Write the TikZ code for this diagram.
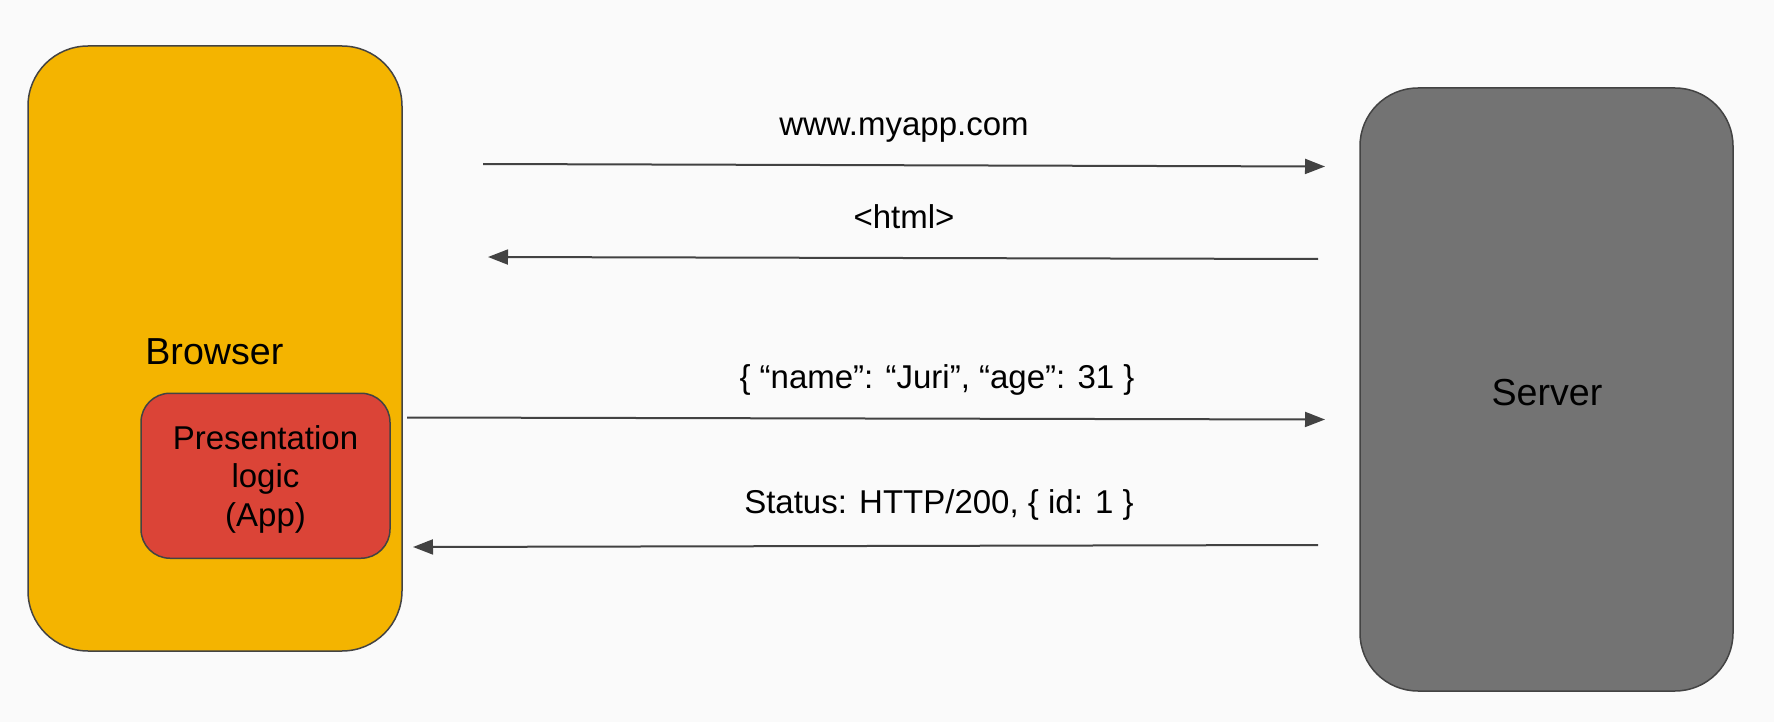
\documentclass[tikz,border=0pt]{standalone}
\usepackage{fontspec}
\setmainfont{Liberation Sans}
\usetikzlibrary{arrows.meta}
\definecolor{bg}{HTML}{FAFAFA}
\definecolor{gyellow}{HTML}{F4B400}
\definecolor{gred}{HTML}{DB4437}
\definecolor{ggray}{HTML}{737373}
\definecolor{edge}{HTML}{434343}
\definecolor{arr}{HTML}{424242}
\begin{document}
\begin{tikzpicture}[x=0.5pt,y=-0.5pt,
  boxstyle/.style={draw=edge,line width=0.75pt,inner sep=0pt},
  msg/.style={draw=arr,line width=1pt,-{Triangle[length=10pt,width=7.5pt]}},
  lbl/.style={anchor=base,inner sep=0pt,font=\fontsize{16.5}{19.8}\selectfont},
  big/.style={font=\fontsize{18.8}{22}\selectfont}]
\fill[bg] (0,0) rectangle (1774,722);
\useasboundingbox (0,0) rectangle (1774,722);
% boxes
\node[boxstyle,fill=gyellow,rounded corners=30pt,minimum width=187pt,minimum height=302.5pt] (browser) at (215,348.5) {};
\node[boxstyle,fill=gred,rounded corners=14.5pt,minimum width=124.5pt,minimum height=82.5pt] (app) at (265.5,475.75) {};
\node[align=center,inner sep=0pt,font=\fontsize{16.5}{19.25}\selectfont,anchor=base] (applbl) at (265.5,526) {Presentation\\logic\\(App)};
\node[boxstyle,fill=ggray,rounded corners=29pt,minimum width=186.5pt,minimum height=301.5pt] (server) at (1546.5,389.5) {};
\node[big,anchor=base west,inner sep=0pt] (browserlbl) at (145,364) {Browser};
\node[big,anchor=base,inner sep=0pt] (serverlbl) at (1547,405) {Server};
% arrow end points
\coordinate (a1s) at (483,164);
\coordinate (a1e) at (1325,166.5);
\coordinate (a2s) at (1318,259);
\coordinate (a2e) at (488,257);
\coordinate (a3s) at (407,417.5);
\coordinate (a3e) at (1325,419.5);
\coordinate (a4s) at (1318,545);
\coordinate (a4e) at (413,547);
\draw[msg] (a1s) -- (a1e);
\draw[msg] (a2s) -- (a2e);
\draw[msg] (a3s) -- (a3e);
\draw[msg] (a4s) -- (a4e);
% labels
\node[lbl] (l1) at (904,136) {www.myapp.com};
\node[lbl] (l2) at (904,228) {<html>};
\node[lbl] (l3) at (937,388) {\{ “name”: “Juri”, “age”: 31 \}};
\node[lbl] (l4) at (939,513) {Status: HTTP/200, \{ id: 1 \}};
\end{tikzpicture}
\end{document}
